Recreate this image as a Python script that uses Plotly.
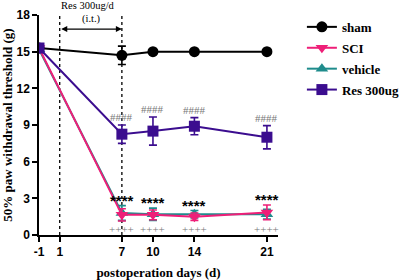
import plotly.graph_objects as go

days = [-1, 7, 10, 14, 21]
sham = [15.3, 14.7, 15.0, 15.0, 15.0]
sham_err = [0.3, 0.75, 0.0, 0.0, 0.0]
sci = [15.3, 1.65, 1.65, 1.5, 1.85]
sci_err = [0.2, 0.5, 0.4, 0.3, 0.6]
vehicle = [15.2, 1.8, 1.7, 1.7, 1.7]
vehicle_err = [0.2, 0.6, 0.5, 0.3, 0.4]
res = [15.3, 8.25, 8.5, 8.9, 8.0]
res_err = [0.3, 0.75, 1.15, 0.7, 0.95]

sig_days = [7, 10, 14, 21]
hash_labels = ["####", "####", "####", "####"]
star_labels = ["****", "****", "****", "****"]
plus_labels = ["++++", "++++", "++++", "++++"]

xticks = [-1, 1, 7, 10, 14, 21]
yticks = [0, 3, 6, 9, 12, 15, 18]

C_SHAM = "#000000"
C_SCI = "#ee1f78"
C_VEH = "#1f8c8c"
C_RES = "#3b0d8f"

fig = go.Figure()

def add(name, y, err, color, symbol, size, rank):
    fig.add_trace(go.Scatter(
        x=days, y=y, name="<b>" + name + "</b>", mode="lines+markers",
        line=dict(color=color, width=2),
        marker=dict(color=color, symbol=symbol, size=size),
        error_y=dict(type="data", array=err, color=color, thickness=1.6, width=4),
        legendrank=rank, legendgroup=name,
    ))

add("sham", sham, sham_err, C_SHAM, "circle", 11, 1)
add("vehicle", vehicle, vehicle_err, C_VEH, "triangle-up", 11, 3)
add("SCI", sci, sci_err, C_SCI, "triangle-down", 11, 2)
add("Res 300ug", res, res_err, C_RES, "square", 11, 4)

# vertical dotted lines
for xv in [1, 7]:
    fig.add_shape(type="line", x0=xv, x1=xv, y0=0, y1=18, xref="x", yref="y",
                  line=dict(color="black", width=1.3, dash="dot"), layer="below")

# arrow
fig.add_annotation(x=7, y=16.85, ax=1, ay=16.85, xref="x", yref="y", axref="x", ayref="y",
                   showarrow=True, arrowhead=2, arrowside="end+start", arrowsize=1,
                   arrowwidth=1.2, arrowcolor="black", text="")
fig.add_annotation(x=3.75, y=1.041, xref="x", yref="paper", yanchor="middle",
                   text="Res 300ug/d", showarrow=False,
                   font=dict(family="Liberation Serif", size=10.5, color="black"))
fig.add_annotation(x=4.1, y=17.7, xref="x", yref="y", text="(i.t.)", showarrow=False,
                   font=dict(family="Liberation Serif", size=10.5, color="black"))

for i, d in enumerate(sig_days):
    k = days.index(d)
    fig.add_annotation(x=d, y=res[k] + res_err[k], yanchor="bottom", yshift=0,
                       text=hash_labels[i], showarrow=False,
                       font=dict(family="Liberation Serif", size=11, color="#777777"))
    fig.add_annotation(x=d, y=max(sci[k] + sci_err[k], vehicle[k] + vehicle_err[k]),
                       yanchor="bottom", yshift=-5,
                       text="<b>" + star_labels[i] + "</b>", showarrow=False,
                       font=dict(family="Liberation Sans", size=15, color="black"))
    fig.add_annotation(x=d, y=0.5, text=plus_labels[i], showarrow=False,
                       font=dict(family="Liberation Serif", size=11, color="#777777"))

fig.update_layout(
    width=400, height=280,
    margin=dict(l=39, r=122, t=15, b=45, autoexpand=False),
    paper_bgcolor="white", plot_bgcolor="white",
    showlegend=True,
    legend=dict(x=1.10, y=1.014, xanchor="left", yanchor="top",
                font=dict(family="Liberation Serif", size=13, color="black"),
                bgcolor="rgba(0,0,0,0)", itemwidth=30, tracegroupgap=1,
                groupclick="toggleitem"),
    xaxis=dict(range=[-1, 22.07], tickvals=xticks, ticktext=[str(v) for v in xticks],
               automargin=False,
               showline=True, linecolor="black", linewidth=1.5, ticks="outside",
               ticklen=5, tickwidth=1.5, tickcolor="black", showgrid=False, zeroline=False,
               tickfont=dict(family="Liberation Sans", size=12, color="black", weight="bold"),
               title=dict(text="<b>postoperation days (d)</b>", standoff=14,
                          font=dict(family="Liberation Serif", size=13, color="black"))),
    yaxis=dict(range=[0, 18], tickvals=yticks, showline=True, linecolor="black", linewidth=1.5,
               automargin=False,
               ticks="outside", ticklen=5, tickwidth=1.5, tickcolor="black",
               showgrid=False, zeroline=False,
               tickfont=dict(family="Liberation Sans", size=12, color="black", weight="bold"),
               title=dict(text="<b>50% paw withdrawal threshold (g)</b>", standoff=3,
                          font=dict(family="Liberation Serif", size=13, color="black"))),
)

fig.write_html("out.html", config={"displayModeBar": False},
               post_script="document.body.style.margin='0px';")
